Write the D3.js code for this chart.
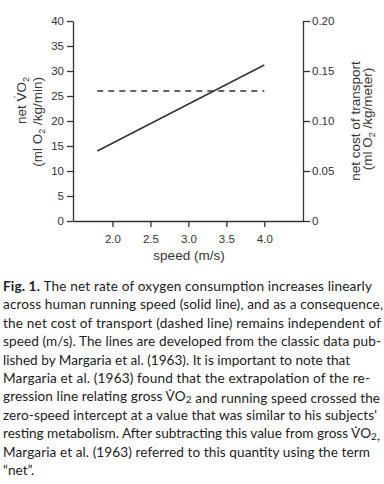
<!DOCTYPE html>
<html lang="en">
<head>
<meta charset="UTF-8">
<script src="https://d3js.org/d3.v7.min.js"></script>
<style>
  body { margin: 0; background: #fff; }
  svg { display: block; }
  .axis text { font-family: "Liberation Sans", Arial, sans-serif; font-size: 11.5px; fill: #333; }
  .axis path, .axis line { stroke: #333; stroke-width: 1.3; }
  .title { font-family: "Liberation Sans", Arial, sans-serif; font-size: 13.5px; fill: #333; }
  .caption { font-family: Lato, "Open Sans", sans-serif; font-size: 13.6px; fill: #222; }
</style>
</head>
<body>
<svg width="384" height="484"></svg>
<script>
// chart values
const speed = [1.8, 4.0];
const netVO2 = [14.0, 31.2];
const netCOT = [0.13, 0.13];
const xTicks = [2.0, 2.5, 3.0, 3.5, 4.0];
const leftTicks = [0, 5, 10, 15, 20, 25, 30, 35, 40];
const rightTicks = [0, 0.05, 0.10, 0.15, 0.20];

// caption lines (first one starts with bold "Fig. 1."), |2| = subscript
const captionLines = [
  "The net rate of oxygen consumption increases linearly",
  "across human running speed (solid line), and as a consequence,",
  "the net cost of transport (dashed line) remains independent of",
  "speed (m/s). The lines are developed from the classic data pub-",
  "lished by Margaria et al. (1963). It is important to note that",
  "Margaria et al. (1963) found that the extrapolation of the re-",
  "gression line relating gross V\u0307O|2| and running speed crossed the",
  "zero-speed intercept at a value that was similar to his subjects'",
  "resting metabolism. After subtracting this value from gross V\u0307O|2|,",
  "Margaria et al. (1963) referred to this quantity using the term",
  "\u201cnet\u201d."
];
const captionWidths = [369, 380, 378, 378, null, 367, 377, 374, 377, 367, null];

const svg = d3.select("svg");
const mLeft = 73, mRight = 303, mTop = 21, mBottom = 221;

const x = d3.scaleLinear().domain([1.48, 4.51]).range([mLeft, mRight]);
const yL = d3.scaleLinear().domain([0, 40]).range([mBottom, mTop]);
const yR = d3.scaleLinear().domain([0, 0.20]).range([mBottom, mTop]);

svg.append("g").attr("class", "axis")
  .attr("transform", `translate(${mLeft},0)`)
  .call(d3.axisLeft(yL).tickValues(leftTicks).tickSize(6).tickSizeOuter(0).tickPadding(3));

svg.append("g").attr("class", "axis")
  .attr("transform", `translate(${mRight},0)`)
  .call(d3.axisRight(yR).tickValues(rightTicks).tickSize(7).tickSizeOuter(0).tickPadding(2)
    .tickFormat(d => d === 0 ? "0" : d.toFixed(2)));

svg.append("g").attr("class", "axis")
  .attr("transform", `translate(0,${mBottom})`)
  .call(d3.axisBottom(x).tickValues(xTicks).tickSize(6).tickSizeOuter(0).tickPadding(8)
    .tickFormat(d3.format(".1f")));

// lines
const pts = speed.map((s, i) => ({ s, vo2: netVO2[i], cot: netCOT[i] }));

svg.append("path")
  .datum(pts)
  .attr("fill", "none")
  .attr("stroke", "#333")
  .attr("stroke-width", 1.5)
  .attr("d", d3.line().x(d => x(d.s)).y(d => yL(d.vo2)));

svg.append("path")
  .datum(pts)
  .attr("fill", "none")
  .attr("stroke", "#333")
  .attr("stroke-width", 1.5)
  .attr("stroke-dasharray", "6,5")
  .attr("d", d3.line().x(d => x(d.s)).y(d => yR(d.cot)));

// axis titles
svg.append("text").attr("class", "title")
  .attr("x", 189).attr("y", 260)
  .attr("text-anchor", "middle")
  .text("speed (m/s)");

let t1 = svg.append("text").attr("class", "title")
  .attr("transform", "translate(25.5,77) rotate(-90)")
  .attr("text-anchor", "end");
t1.append("tspan").text("net V\u0307O");
t1.append("tspan").attr("font-size", "9px").attr("dy", 3).text("2");

let t2 = svg.append("text").attr("class", "title")
  .attr("transform", "translate(42,77) rotate(-90)")
  .attr("text-anchor", "end");
t2.append("tspan").text("(ml O");
t2.append("tspan").attr("font-size", "9px").attr("dy", 3).text("2");
t2.append("tspan").attr("dy", -3).text(" /kg/min)");

svg.append("text").attr("class", "title")
  .attr("transform", "translate(360,121) rotate(-90)")
  .attr("text-anchor", "middle")
  .text("net cost of transport");

let t4 = svg.append("text").attr("class", "title")
  .attr("transform", "translate(372,119) rotate(-90)")
  .attr("text-anchor", "middle");
t4.append("tspan").text("(ml O");
t4.append("tspan").attr("font-size", "9px").attr("dy", 3).text("2");
t4.append("tspan").attr("dy", -3).text(" /kg/meter)");

// caption
const cap = svg.append("g");
captionLines.forEach((line, i) => {
  const t = cap.append("text").attr("class", "caption")
    .attr("x", 3).attr("y", 291 + i * 18.4);
  if (captionWidths[i]) t.attr("textLength", captionWidths[i]).attr("lengthAdjust", "spacing");
  if (i === 0) t.append("tspan").attr("font-weight", "bold").text("Fig. 1. ");
  line.split("|").forEach((part, j) => {
    if (j % 2 === 1) {
      t.append("tspan").attr("font-size", "10px").attr("dy", 2).text(part);
      t.append("tspan").attr("dy", -2).text("");
    } else {
      t.append("tspan").text(part);
    }
  });
});
</script>
</body>
</html>
